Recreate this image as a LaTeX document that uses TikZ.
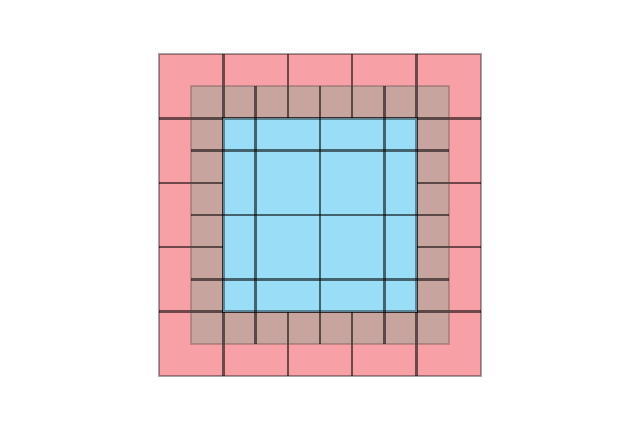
\documentclass[tikz,border=0pt]{standalone}
\definecolor{pinkc}{HTML}{F7A1A7}
\definecolor{brownc}{HTML}{C8A49F}
\definecolor{bluec}{HTML}{99DDF7}
\tikzset{
  gridline/.style={draw=black, draw opacity=0.55, line width=1pt},
  outerline/.style={draw=black, draw opacity=0.35, line width=1pt},
  ringline/.style={draw=black!60!brownc, draw opacity=0.3, line width=0.7pt},
}
\begin{document}
\begin{tikzpicture}
\useasboundingbox (0,0) rectangle (9.938,6.677);
\begin{scope}[shift={(2.469,0.8385)}]
  % pink 5x5 board
  \fill[pinkc] (0,0) rectangle (5,5);
  % brownish ring square
  \fill[brownc] (0.5,0.5) rectangle (4.5,4.5);
  % pink grid lines
  \foreach \k in {1,2,3,4} {
    \draw[gridline] (\k,0) -- (\k,5);
    \draw[gridline] (0,\k) -- (5,\k);
  }
  % ring border
  \draw[ringline] (0.5,0.5) rectangle (4.5,4.5);
  % blue centre
  \fill[bluec] (1,1) rectangle (4,4);
  \draw[gridline, draw opacity=0.4] (1,1) rectangle (4,4);
  % offset grid lines
  \foreach \k in {1.5,2.5,3.5} {
    \draw[gridline] (\k,0.5) -- (\k,4.5);
    \draw[gridline] (0.5,\k) -- (4.5,\k);
  }
  % outer border
  \draw[outerline] (0,0) rectangle (5,5);
\end{scope}
\end{tikzpicture}
\end{document}
